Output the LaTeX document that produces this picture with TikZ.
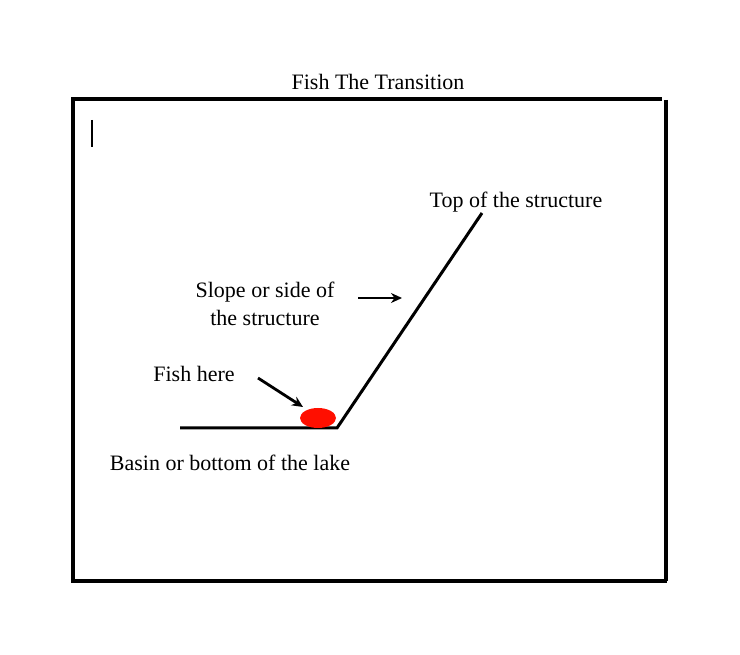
\documentclass[tikz,border=0pt]{standalone}
\usepackage{fontspec}
\setmainfont{Liberation Serif}
\usetikzlibrary{arrows.meta, positioning, calc, shapes.geometric}

\begin{document}
\begin{tikzpicture}[x=1pt, y=-1pt,
    lbl/.style={font=\fontsize{22}{28}\selectfont, inner sep=0pt, align=center},
    frame/.style={line width=3.4pt},
    ground/.style={line width=3pt},
    pointer/.style={-{Stealth[length=11pt, width=10pt]}, line width=2.8pt}
]
\useasboundingbox (0,0) rectangle (740,655);
%% outer frame
\coordinate (TL) at (73,99);
\coordinate (TR) at (662,99);
\coordinate (RT) at (666,100);
\coordinate (RB) at (666,581);
\coordinate (BL) at (73,581);
\draw[frame] (TR) -- (TL) -- (BL) -- ($(RB)+(1,0)$);
\draw[frame] (RT) -- (RB);
\node[lbl] (title) at (378,82) {Fish The Transition};
% stray text cursor
\coordinate (C1) at (92,120);
\coordinate (C2) at (92,147);
\draw[line width=1.3pt] (C1) -- (C2);
%% lake bottom and structure
\coordinate (basin) at (180,428);
\coordinate (toe) at (337,428);
\coordinate (crest) at (482,213);
\draw[ground] (basin) -- (toe) -- (crest);
\node[ellipse, fill=red!88!orange, minimum width=36pt, minimum height=20pt,
      inner sep=0pt] (fish) at (318,418) {};
%% labels
\node[lbl] (top) at (516,202) {Top of the structure};
\node[lbl] (slope) at (265,304) {Slope or side of\\the structure};
\node[lbl] (here) at (194,374) {Fish here};
\node[lbl] (bottom) at (230,463) {Basin or bottom of the lake};
%% arrows
\coordinate (s1) at (358,298);
\coordinate (s2) at (402,298);
\draw[pointer] (s1) -- (s2);
\coordinate (f1) at (258,378);
\coordinate (f2) at (303,407);
\draw[pointer] (f1) -- (f2);
\end{tikzpicture}
\end{document}
